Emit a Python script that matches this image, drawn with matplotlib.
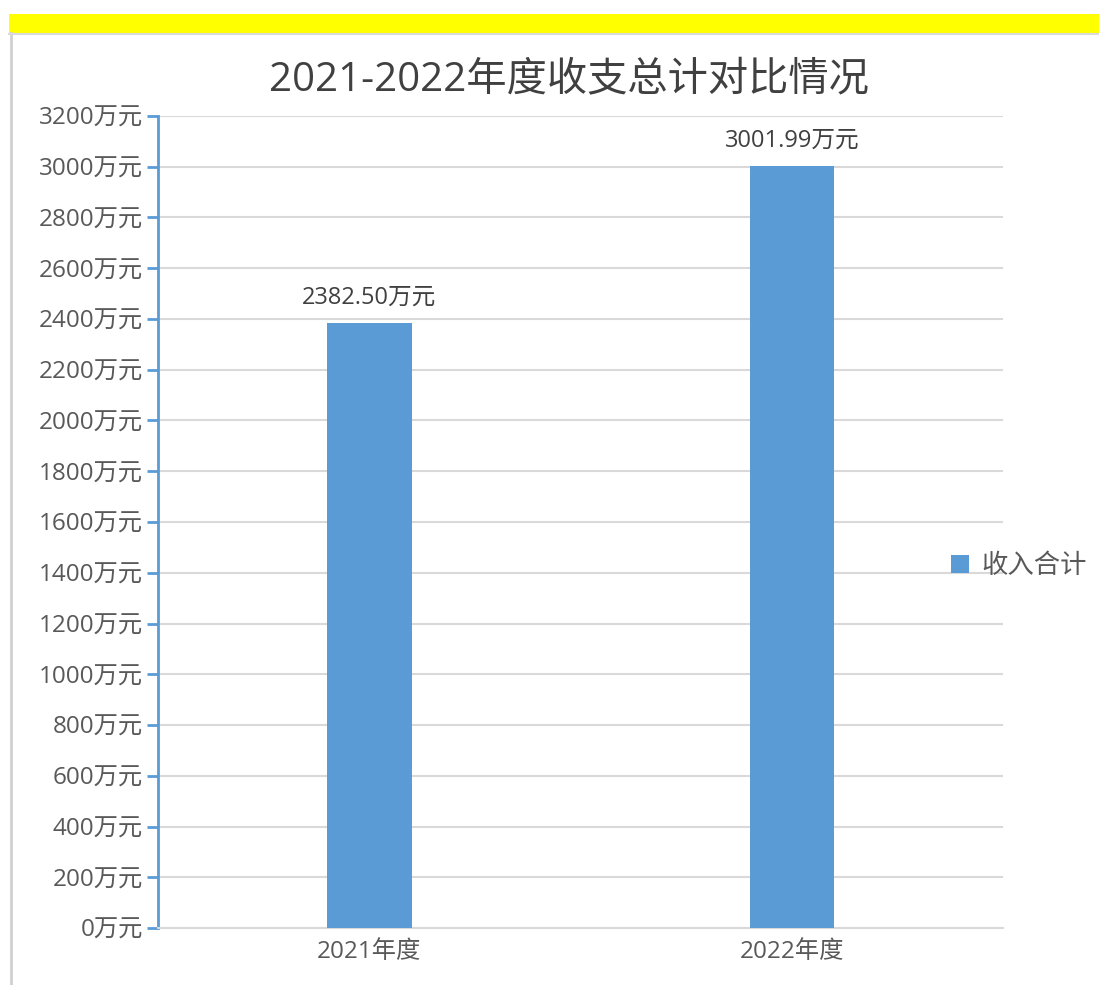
import numpy as np
import matplotlib.pyplot as plt
from matplotlib.patches import Rectangle
from matplotlib.lines import Line2D

plt.rcParams['font.family'] = ['Open Sans', 'Noto Sans CJK SC', 'DejaVu Sans']

title = '2021-2022年度收支总计对比情况'
years = ['2021年度', '2022年度']
income = [2382.50, 3001.99]
series_name = '收入合计'
yticks = list(range(0, 3201, 200))

blue = '#5b9bd5'
txt = '#595959'

fig = plt.figure(figsize=(10.99, 9.85), dpi=100)
W, H = 1099, 985

# yellow band and left border like the screenshot
fig.add_artist(Rectangle((9/W, 1-33/H), 1-9/W, 19/H, transform=fig.transFigure,
                         facecolor='#ffff00', edgecolor='none'))
fig.add_artist(Line2D([11/W, 11/W], [0, 1-33/H], transform=fig.transFigure,
                      color='#d0d0d0', lw=2))
fig.add_artist(Line2D([9/W, 1], [1-34/H, 1-34/H], transform=fig.transFigure,
                      color='#d9d9d9', lw=1.5))

ax = fig.add_axes([158/W, 1-928/H, (1003-158)/W, (928-116)/H])
x = np.arange(len(years))
bars = ax.bar(x, income, width=0.2, color=blue, label=series_name, zorder=3)
ax.set_xlim(-0.5, 1.5)
ax.set_ylim(0, 3200)
ax.set_yticks(yticks)
ax.set_yticklabels([f'{v}万元' for v in yticks], fontsize=17.5, color=txt)
ax.set_xticks(x)
ax.set_xticklabels(years, fontsize=17.5, color=txt)
ax.tick_params(axis='x', length=0, pad=9)
ax.tick_params(axis='y', length=8, width=2, color=blue, direction='out', pad=3)
ax.grid(axis='y', color='#d9d9d9', lw=1.5, zorder=0)
for s in ['top', 'right']:
    ax.spines[s].set_visible(False)
ax.spines['left'].set_color(blue)
ax.spines['left'].set_linewidth(2)
ax.spines['bottom'].set_color('#d9d9d9')
ax.spines['bottom'].set_linewidth(1.5)

for b, v in zip(bars, income):
    ax.annotate(f'{v:.2f}万元', (b.get_x() + b.get_width()/2, v),
                xytext=(0, 10), textcoords='offset points',
                ha='center', va='bottom', fontsize=17, color='#404040')

fig.text(569/W, 1-80/H, title, ha='center', va='center',
         fontsize=29, color='#404040')

ax.legend(loc='center left', bbox_to_anchor=(0.91, 0.445), frameon=False,
          fontsize=19, handlelength=0.7, handleheight=0.7, handletextpad=0.45,
          labelcolor=txt)

fig.savefig('out.png', dpi=100, facecolor='white')
